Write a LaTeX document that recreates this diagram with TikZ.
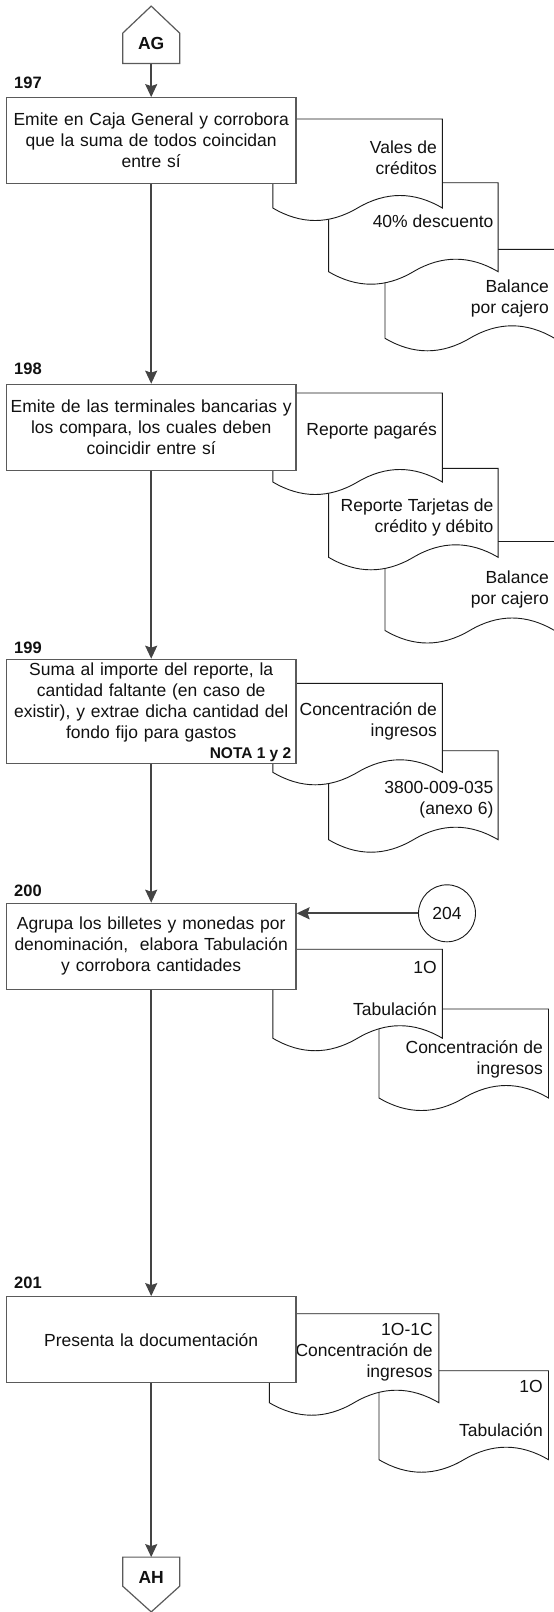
\documentclass[tikz,border=0pt]{standalone}
\usepackage{fontspec}
\setmainfont{Liberation Sans}
\usetikzlibrary{arrows.meta,calc}

\definecolor{boxline}{HTML}{5A5A5A}
\definecolor{flowline}{HTML}{444444}
\definecolor{sheetline}{HTML}{1A1A1A}
\definecolor{inktext}{HTML}{111111}

\newcommand\txtsize{\fontsize{17.5pt}{21pt}\selectfont}
\newcommand\numsize{\fontsize{16.5pt}{20pt}\selectfont}
\newcommand\notesize{\fontsize{15.5pt}{19pt}\selectfont}

\tikzset{
  stepbox/.style={draw=boxline, line width=1.2pt, fill=white, minimum width=289.6pt,
    minimum height=86pt, inner sep=0pt, text width=284pt, align=center,
    font=\txtsize, text=inktext},
  connshape/.style={draw=boxline, line width=1.2pt, fill=white},
  sheet/.style={draw=sheetline, line width=0.9pt, fill=white},
  sheettext/.style={anchor=east, align=right, inner sep=0pt, font=\txtsize, text=inktext},
  steplabel/.style={anchor=west, inner sep=0pt, font=\numsize\bfseries, text=inktext},
  flow/.style={draw=flowline, line width=1.8pt,
    -{Stealth[length=13pt,width=12pt,inset=2pt]}},
}

% document sheet with a wavy lower edge; #1,#2 = top-left corner
\newcommand\docsheet[2]{%
  \draw[sheet] (#1,#2) -- ({#1+169.5},#2) -- ({#1+169.5},{#2+89})
    .. controls ({#1+141.25},{#2+72.33}) and ({#1+113},{#2+72.33}) .. ({#1+84.75},{#2+89})
    .. controls ({#1+56.5},{#2+105.67}) and ({#1+28.25},{#2+105.67}) .. (#1,{#2+89})
    -- cycle;}

\begin{document}
\begin{tikzpicture}[x=1pt,y=-1pt]
\useasboundingbox (0,0) rectangle (554,1612);

% ---------- 197 ----------
\docsheet{385}{249.3}
\node[sheettext] (t197c) at (549,298) {Balance\\por cajero};
\docsheet{328.6}{182.7}
\node[sheettext] (t197b) at (493.6,221.7) {40\% descuento};
\docsheet{272.8}{119}
\node[sheettext] (t197a) at (437,157.5) {Vales de\\créditos};
\node[stepbox] (b197) at (151.2,140.7)
  {Emite en Caja General y corrobora\\que la suma de todos coincidan\\entre sí};
\node[steplabel] (n197) at (14,83) {197};

% ---------- 198 ----------
\docsheet{385}{541.5}
\node[sheettext] (t198c) at (549,589.5) {Balance\\por cajero};
\docsheet{328.6}{468.3}
\node[sheettext] (t198b) at (493.6,517) {Reporte Tarjetas de\\crédito y débito};
\docsheet{272.8}{393}
\node[sheettext] (t198a) at (437,431) {Reporte pagarés};
\node[stepbox] (b198) at (151.2,427.3)
  {Emite de las terminales bancarias y\\los compara, los cuales deben\\coincidir entre sí};
\node[steplabel] (n198) at (14,369) {198};

% ---------- 199 ----------
\docsheet{328.6}{750.7}
\node[sheettext] (t199b) at (493.6,799.7) {3800-009-035\\(anexo 6)};
\docsheet{272.8}{683.3}
\node[sheettext] (t199a) at (437,721) {Concentración de\\ingresos};
\node[stepbox, minimum height=104pt] (b199) at (151.2,711.3)
  {Suma al importe del reporte, la\\cantidad faltante (en caso de\\existir), y extrae dicha cantidad del\\fondo fijo para gastos\\\mbox{}};
\node[anchor=east, inner sep=0pt, font=\notesize\bfseries, text=inktext] (nota) at (291.5,754.3) {NOTA 1 y 2};
\node[steplabel] (n199) at (14,647.7) {199};

% ---------- 200 ----------
\docsheet{379}{1009}
\node[sheettext] (t200b) at (543,1059.7) {Concentración de\\ingresos};
\docsheet{272.8}{949.2}
\node[sheettext] (t200a1) at (437,967.7) {1O};
\node[sheettext] (t200a2) at (437,1009) {Tabulación};
\node[stepbox] (b200) at (151.2,946.3)
  {Agrupa los billetes y monedas por\\denominación,\ \ elabora Tabulación\\y corrobora cantidades};
\node[steplabel] (n200) at (14,891) {200};
\node[circle, draw=sheetline, line width=0.9pt, fill=white, minimum size=57pt,
  inner sep=0pt, font=\txtsize, text=inktext] (c204) at (447,913.3) {204};

% ---------- 201 ----------
\docsheet{379}{1370.7}
\node[sheettext] (t201b1) at (543,1386.7) {1O};
\node[sheettext] (t201b2) at (543,1430) {Tabulación};
\docsheet{269.3}{1313.7}
\node[sheettext] (t201a) at (432.9,1352.6) {1O-1C\\Concentración de\\ingresos};
\node[stepbox] (b201) at (151.2,1339.7) {Presenta la documentación};
\node[steplabel] (n201) at (14,1283) {201};

% ---------- off-page connectors ----------
\node[inner sep=0pt, minimum width=56.5pt, minimum height=30pt] (ag) at (151.2,48.3) {};
\draw[connshape] (ag.south west) -- (ag.north west) -- ($(ag.north)+(0,-27)$)
  -- (ag.north east) -- (ag.south east) -- cycle;
\node[inner sep=0pt, font=\txtsize\bfseries, text=inktext] (agtext) at (151.2,43) {AG};

\node[inner sep=0pt, minimum width=56.5pt, minimum height=28.7pt] (ah) at (151.2,1571.65) {};
\draw[connshape] (ah.north west) -- (ah.north east) -- (ah.south east)
  -- ($(ah.south)+(0,25.7)$) -- (ah.south west) -- cycle;
\node[inner sep=0pt, font=\txtsize\bfseries, text=inktext] (ahtext) at (151.2,1577.3) {AH};

% ---------- flow ----------
\draw[flow] (ag.south) -- (b197.north);
\draw[flow] (b197.south) -- (b198.north);
\draw[flow] (b198.south) -- (b199.north);
\draw[flow] (b199.south) -- (b200.north);
\draw[flow] (b200.south) -- (b201.north);
\draw[flow] (b201.south) -- (ah.north);
\draw[flow] (c204.west) -- (c204.west -| b200.east);
\end{tikzpicture}
\end{document}
